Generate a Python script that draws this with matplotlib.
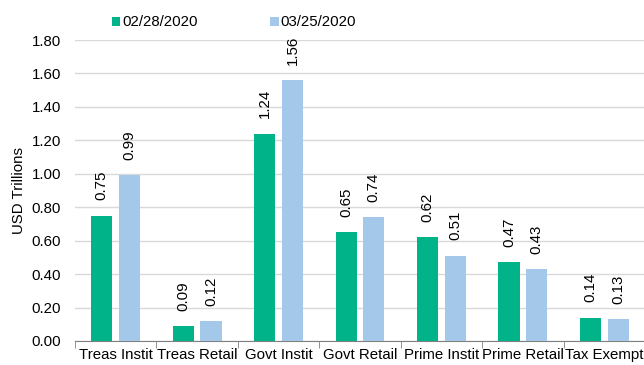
import matplotlib
matplotlib.use("Agg")
import matplotlib.pyplot as plt
import numpy as np

categories = ["Treas Instit", "Treas Retail", "Govt Instit", "Govt Retail",
              "Prime Instit", "Prime Retail", "Tax Exempt"]
series_names = ["02/28/2020", "03/25/2020"]
feb = [0.75, 0.09, 1.24, 0.65, 0.62, 0.47, 0.14]
mar = [0.99, 0.12, 1.56, 0.74, 0.51, 0.43, 0.13]
yticks = [0.0, 0.2, 0.4, 0.6, 0.8, 1.0, 1.2, 1.4, 1.6, 1.8]

green = "#00B388"
blue = "#A3C8EA"
fs = 10.8

plt.rcParams['font.family'] = ['Liberation Sans', 'DejaVu Sans']

fig = plt.figure(figsize=(6.44, 3.65), dpi=100)
ax = fig.add_axes([75/644, 24/365, 570/644, 301/365])

x = np.arange(len(categories))
w = 0.26
off = 0.17
b1 = ax.bar(x - off, feb, w, color=green, label=series_names[0], zorder=3)
b2 = ax.bar(x + off, mar, w, color=blue, label=series_names[1], zorder=3)

for bars, vals in ((b1, feb), (b2, mar)):
    for r, v in zip(bars, vals):
        ax.annotate(f"{v:.2f}", (r.get_x() + r.get_width()/2, v),
                    xytext=(0, 11), textcoords="offset points",
                    rotation=90, ha="center", va="bottom", fontsize=fs,
                    color="#000000")

ax.set_xlim(-0.5, len(categories) - 0.5)
ax.set_ylim(0, 1.8)
ax.set_yticks(yticks)
ax.set_yticklabels([f"{t:.2f}" for t in yticks], fontsize=fs)
ax.set_xticks(x)
ax.set_xticklabels(categories, fontsize=fs)
ax.tick_params(axis='x', length=0, pad=5)
ax.set_xticks(np.arange(len(categories) + 1) - 0.5, minor=True)
ax.tick_params(axis='x', which='minor', length=5, color="#808080", direction='out')
ax.tick_params(axis='y', length=0, pad=10)
ax.yaxis.grid(True, color="#D9D9D9", linewidth=1, zorder=0)
for s in ("top", "right", "left"):
    ax.spines[s].set_visible(False)
ax.spines["bottom"].set_color("#808080")
ax.set_ylabel("USD Trillions", fontsize=fs, labelpad=4)

leg = ax.legend(loc="lower left", bbox_to_anchor=(26/570, 1.0), ncol=2,
                frameon=False, fontsize=fs, handlelength=0.55, handleheight=0.55,
                handletextpad=0.15, columnspacing=4.85, borderaxespad=0.3)

fig.savefig("out.png", dpi=100)
